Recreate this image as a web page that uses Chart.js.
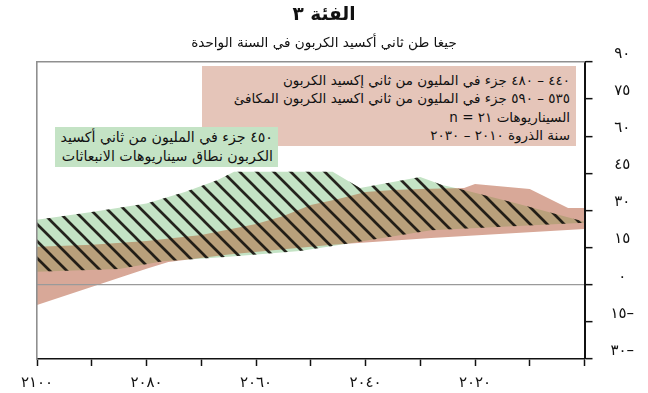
<!DOCTYPE html>
<html lang="ar">
<head>
<meta charset="utf-8">
<script src="https://cdn.jsdelivr.net/npm/chart.js@4.4.1/dist/chart.umd.min.js"></script>
<style>
  html, body { margin: 0; padding: 0; background: #fff; }
  #wrap { position: relative; width: 648px; height: 393px; overflow: hidden; }
  #chart { position: absolute; left: 0; top: 0; }
  .note {
    position: absolute; direction: rtl; text-align: right;
    font-family: "DejaVu Sans", sans-serif; color: #111; box-sizing: border-box;
    white-space: nowrap;
  }
  #noteCo2 { left: 202px; top: 66px; width: 374px; height: 80px; background: #e5c5b9;
             font-size: 13.5px; line-height: 18.4px; padding: 5px 6px 0 0; }
  #noteRange { left: 55px; top: 127px; width: 223px; height: 40px; background: #c4e3c5;
               font-size: 14.2px; line-height: 19px; padding: 1px 5px 0 0; }
</style>
</head>
<body>
<div id="wrap">
  <canvas id="chart" width="648" height="393"></canvas>
  <div class="note" id="noteCo2">
    <div>٤٤٠ – ٤٨٠ جزء في المليون من ثاني إكسيد الكربون</div>
    <div>٥٣٥ – ٥٩٠ جزء في المليون من ثاني اكسيد الكربون المكافئ</div>
    <div>السيناريوهات ٢١ = n</div>
    <div>سنة الذروة ٢٠١٠ – ٢٠٣٠</div>
  </div>
  <div class="note" id="noteRange">
    <div>٤٥٠ جزء في المليون من ثاني أكسيد</div>
    <div>الكربون نطاق سيناريوهات الانبعاثات</div>
  </div>
</div>
<script>
// Emission ranges, Gt CO2 per year, by year (2000–2100)
const titleText = 'الفئة ٣';
const subtitleText = 'جيغا طن ثاني أكسيد الكربون في السنة الواحدة';

// 440–480 ppm CO2 band (upper / lower edge)
const pinkUpperYears  = [2100, 2090, 2080, 2070, 2060, 2055, 2050, 2045, 2040, 2035, 2030, 2022, 2020, 2010, 2003, 2000];
const pinkUpperValues = [15.3, 16.1, 17.7, 20.1, 24.5, 27.8, 32.2, 34.6, 37.5, 38.3, 38.7, 39.1, 40.7, 38.7, 31.0, 31.0];
const pinkLowerYears  = [2100, 2080, 2076, 2065, 2052, 2046, 2028, 2000];
const pinkLowerValues = [-8.2, 6.5, 9.2, 12.2, 14.9, 16.1, 18.9, 22.5];

// 450 ppm emission scenario range (upper / lower edge)
const greenUpperYears  = [2100, 2090, 2080, 2073, 2067, 2064, 2046, 2041, 2030, 2026, 2022, 2012, 2000];
const greenUpperValues = [26.2, 29.4, 32.8, 37.5, 42.3, 45.6, 45.6, 39.1, 43.5, 40.3, 38.3, 32.6, 25.4];
const greenLowerYears  = [2100, 2085, 2077, 2065, 2052, 2046, 2028, 2000];
const greenLowerValues = [5.2, 6.4, 9.5, 11.3, 13.6, 15.6, 22.0, 25.0];

// Axis ticks
const xTickLabelYears = [2100, 2080, 2060, 2040, 2020];
const yMin = -30, yMax = 90, yStep = 15;

const arabicDigits = '٠١٢٣٤٥٦٧٨٩';
const toArabic = n => String(n).replace(/\d/g, d => arabicDigits[d]);
const toPoints = (xs, ys) => xs.map((x, i) => ({ x, y: ys[i] }));

const FONT = '"DejaVu Sans", sans-serif';
const GREEN = '#c4e3c5';
const PINK = '#d8a898';
const OVERLAP = '#b9a07b';
const FRAME = '#8f8f8f';

function hatchPattern(size, width, color) {
  const c = document.createElement('canvas');
  c.width = size; c.height = size;
  const g = c.getContext('2d');
  g.strokeStyle = color; g.lineWidth = width;
  g.beginPath();
  for (let k = -1; k <= 1; k++) {
    g.moveTo(-size, -size + k * size);
    g.lineTo(2 * size, 2 * size + k * size);
  }
  g.stroke();
  return g.createPattern(c, 'repeat');
}

// Sets the canvas compositing mode for each band before it is filled,
// so the overlap of the two ranges gets its own colour.
function applyBlend(chart, meta) {
  const ds = meta ? chart.data.datasets[meta.index] : null;
  chart.ctx.globalCompositeOperation = (ds && ds.blend) || 'source-over';
}
const bandBlend = {
  id: 'bandBlend',
  beforeDatasetsDraw(chart) {
    const metas = chart.getSortedVisibleDatasetMetas();
    applyBlend(chart, metas[metas.length - 1]);
  },
  afterDatasetDraw(chart, args) {
    const metas = chart.getSortedVisibleDatasetMetas();
    const pos = metas.indexOf(args.meta);
    applyBlend(chart, pos > 0 ? metas[pos - 1] : null);
  },
  afterDatasetsDraw(chart) {
    chart.ctx.globalCompositeOperation = 'source-over';
  }
};

const edge = { borderWidth: 0, pointRadius: 0, fill: false, tension: 0 };
const greenLower = toPoints(greenLowerYears, greenLowerValues);
const pinkLower = toPoints(pinkLowerYears, pinkLowerValues);
const greenUpper = toPoints(greenUpperYears, greenUpperValues);
const pinkUpper = toPoints(pinkUpperYears, pinkUpperValues);

new Chart(document.getElementById('chart'), {
  type: 'line',
  data: {
    datasets: [
      { ...edge, data: greenLower, order: 0 },                                   // 0
      { ...edge, data: pinkLower, order: 0 },                                    // 1
      { ...edge, data: greenUpper, fill: { target: 0 }, backgroundColor: GREEN, order: 4 },
      { ...edge, data: pinkUpper, fill: { target: 1 }, backgroundColor: OVERLAP, order: 3, blend: 'source-atop' },
      { ...edge, data: pinkUpper, fill: { target: 1 }, backgroundColor: PINK, order: 2, blend: 'destination-over' },
      { ...edge, data: greenUpper, fill: { target: 0 }, backgroundColor: hatchPattern(17, 2.7, 'rgba(22,18,14,0.92)'), order: 1 }
    ]
  },
  options: {
    responsive: false,
    animation: false,
    events: [],
    devicePixelRatio: 1,
    layout: { padding: 0 },
    plugins: {
      legend: { display: false },
      tooltip: { enabled: false },
      title: {
        display: true, text: titleText, color: '#111',
        font: { family: FONT, size: 18.5, weight: 'bold' },
        padding: { top: 4, bottom: 7 }
      },
      subtitle: {
        display: true, text: subtitleText, color: '#111',
        font: { family: FONT, size: 13.6 },
        padding: { top: 2, bottom: 10.4 }
      }
    },
    scales: {
      x: {
        type: 'linear', position: 'bottom', reverse: true,
        min: 2000, max: 2100,
        afterFit: s => { s.height = 34; },
        grid: { drawOnChartArea: false, tickLength: 7, tickColor: '#111', tickWidth: 1.5, z: 1 },
        border: { color: '#111', width: 1.6, z: 1 },
        ticks: {
          stepSize: 10, autoSkip: false, maxRotation: 0, padding: 8, color: '#111',
          font: { family: FONT, size: 15 },
          callback: v => xTickLabelYears.includes(v) ? toArabic(v) : ''
        }
      },
      y: {
        type: 'linear', position: 'right',
        min: yMin, max: yMax,
        afterFit: s => { s.width = 63.5; },
        grid: {
          color: c => (c.tick && c.tick.value === 0) ? '#9a9a9a' : 'rgba(0,0,0,0)',
          lineWidth: 1.3, tickLength: 8, tickColor: '#111', tickWidth: 1.5, z: 1
        },
        border: { color: '#111', width: 2, z: 1 },
        ticks: {
          stepSize: yStep, padding: 18, crossAlign: 'center', labelOffset: -8, color: '#111',
          font: { family: FONT, size: 15 },
          callback: v => v < 0 ? toArabic(-v) + '–' : toArabic(v)
        }
      },
      frameTop: {
        type: 'linear', position: 'top', axis: 'x',
        afterFit: s => { s.height = 0; },
        grid: { display: false }, ticks: { display: false },
        border: { color: FRAME, width: 1.6, z: 1 }
      },
      frameLeft: {
        type: 'linear', position: 'left', axis: 'y',
        afterFit: s => { s.width = 37; },
        grid: { display: false }, ticks: { display: false },
        border: { color: FRAME, width: 1.6, z: 1 }
      }
    }
  },
  plugins: [bandBlend]
});
</script>
</body>
</html>
